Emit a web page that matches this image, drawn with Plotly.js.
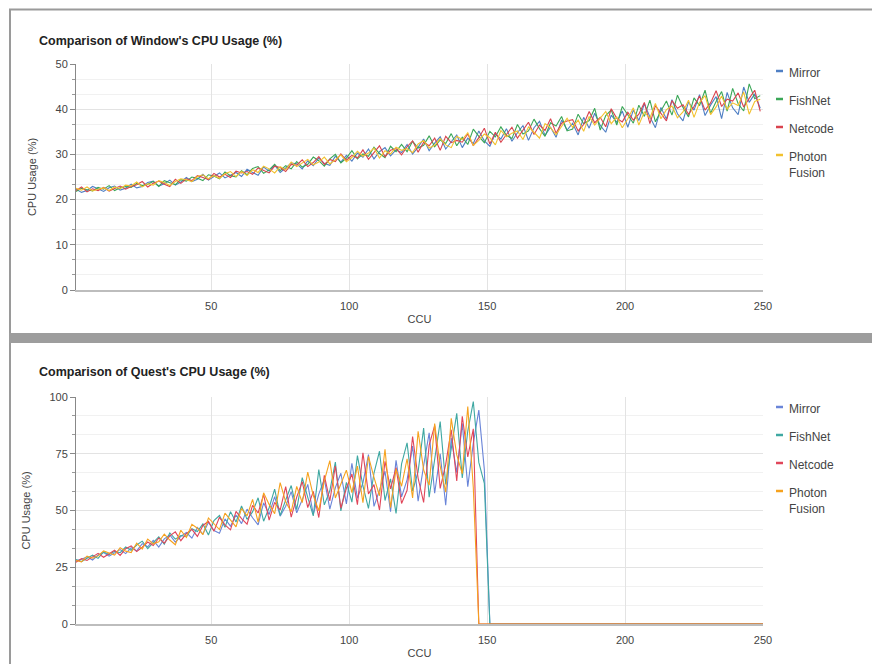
<!DOCTYPE html>
<html>
<head>
<meta charset="utf-8">
<script src="https://cdn.plot.ly/plotly-3.0.1.min.js"></script>
<style>html,body{margin:0;padding:0;background:#fff;}#chart{width:872px;height:664px;}</style>
</head>
<body>
<div id="chart"></div>
<script>
// ---------- DATA ----------
const seriesNames = ["Mirror", "FishNet", "Netcode", "Photon Fusion"];
const xTickVals = [50, 100, 150, 200, 250];

// Window's CPU usage, CCU = 1,3,5,...,249
const winMirror = [
22.3,21.6,22.0,22.9,22.4,21.8,22.6,23.0,22.1,22.5,
23.4,22.6,22.9,23.8,24.1,23.0,23.5,24.3,23.2,23.9,
24.9,24.0,24.5,25.6,24.3,25.1,25.9,24.8,25.4,26.0,
25.1,26.7,26.0,25.4,27.2,26.3,27.6,26.0,27.0,28.1,
27.9,26.8,28.6,27.5,29.2,28.0,27.6,29.6,28.3,29.8,
28.5,30.3,29.4,31.2,29.0,30.6,31.5,29.7,31.0,30.4,
32.2,30.1,31.6,33.4,30.8,32.5,33.9,31.2,32.8,34.3,
31.5,33.6,32.4,35.2,33.0,31.8,34.6,33.4,35.7,32.9,
34.8,36.4,33.1,35.9,37.3,34.2,36.0,33.8,37.6,35.4,
36.9,34.3,38.2,35.8,39.1,36.4,34.9,38.7,37.1,39.6,
36.0,39.8,37.5,41.2,38.3,35.9,40.4,37.8,42.1,39.0,
37.4,41.6,39.8,43.2,38.6,40.9,42.8,37.9,43.7,40.3,
38.8,44.9,41.5,43.4,40.2];
const winFishNet = [
21.8,22.5,22.2,21.9,22.7,22.3,23.1,22.0,22.6,22.9,
22.7,23.6,23.1,23.4,24.0,22.9,24.2,23.7,23.3,24.4,
24.1,25.0,24.7,24.2,25.5,25.2,24.6,26.1,25.3,25.0,
26.4,25.5,26.9,27.3,25.8,26.6,27.8,26.4,27.5,26.8,
28.4,27.2,27.8,29.4,28.6,27.4,29.0,30.0,28.1,29.2,
30.8,29.0,30.1,29.6,31.6,30.2,29.3,31.8,30.6,32.2,
30.6,32.9,31.4,32.0,34.1,31.7,33.2,32.4,34.6,31.9,
33.8,32.2,35.6,34.0,32.6,35.1,33.9,36.1,34.2,33.5,
36.6,34.5,35.2,37.8,35.7,34.0,37.0,36.3,38.4,35.2,
35.6,38.9,36.8,37.5,40.2,35.4,38.6,39.8,36.5,40.6,
38.8,36.9,40.9,38.4,42.0,37.2,39.6,41.8,38.7,43.1,
40.4,38.3,42.5,40.8,44.2,39.1,41.7,43.9,39.6,44.6,
41.2,39.6,45.6,42.3,43.0];
const winNetcode = [
22.0,22.8,21.7,22.4,22.0,22.7,21.9,22.5,23.0,22.3,
22.9,23.3,24.0,22.8,23.6,24.1,23.4,22.9,24.5,23.6,
24.6,24.2,25.3,24.9,24.4,25.8,25.0,25.6,24.9,26.3,
25.9,26.2,25.6,27.0,26.5,25.9,27.4,27.1,26.2,27.8,
27.6,28.8,27.3,28.2,29.5,27.8,28.9,28.4,30.1,28.7,
29.8,29.2,31.0,28.9,30.4,31.9,29.5,30.9,31.3,29.9,
31.7,33.0,30.5,32.7,31.9,33.6,30.9,34.0,32.6,33.1,
32.7,34.5,31.9,33.7,35.8,32.3,34.9,32.7,34.4,36.0,
33.6,35.5,37.1,34.4,36.5,35.3,37.9,34.7,36.9,37.4,
37.7,35.2,36.6,39.5,37.0,38.2,36.1,40.1,38.0,37.2,
39.3,37.6,38.9,41.5,36.8,40.8,39.2,37.4,41.9,40.2,
41.0,38.9,40.6,42.9,39.8,41.4,44.1,40.6,42.2,41.8,
43.6,40.5,42.4,44.2,39.5];
const winPhoton = [
22.5,22.1,22.8,21.9,22.3,22.6,22.0,22.8,22.4,23.2,
23.0,23.9,22.8,23.5,23.2,24.2,23.8,23.1,24.0,24.6,
24.4,24.0,25.1,25.5,24.6,25.3,24.7,25.7,26.2,25.1,
26.2,25.3,26.6,26.0,27.4,26.8,25.9,27.3,26.6,28.3,
27.3,28.1,28.9,27.7,28.3,29.4,27.9,28.8,29.9,28.4,
29.3,30.7,29.6,30.3,31.4,29.2,30.8,30.1,31.6,30.9,
31.3,30.4,32.3,33.1,31.4,32.0,33.5,32.1,31.5,34.0,
33.3,34.8,32.0,33.1,34.5,33.7,32.1,35.3,33.9,34.7,
35.2,33.3,36.1,34.9,33.6,36.8,35.9,34.4,36.2,38.0,
36.0,37.6,35.1,38.4,36.5,37.9,39.5,36.8,38.3,35.9,
37.9,40.3,36.5,39.4,38.0,41.3,37.9,39.9,40.7,38.1,
39.4,42.0,38.2,41.5,43.0,38.8,40.5,42.9,40.0,41.4,
40.8,43.8,38.9,41.7,42.2];

// Quest's CPU usage, CCU = 1,3,5,... ; last two values are at the drop and at CCU 250
const questMirror = [
27.8,28.5,29.6,28.2,30.4,31.5,29.9,31.2,32.8,31.0,
33.6,32.2,35.4,34.0,36.8,33.9,37.5,39.2,36.1,38.6,
40.3,37.8,42.5,39.6,44.8,41.2,40.0,46.3,43.1,48.0,
44.2,50.6,46.8,43.7,53.4,48.2,56.1,47.5,51.9,58.3,
49.0,54.7,61.5,48.3,57.2,63.8,50.6,60.1,66.4,52.9,
70.8,55.4,62.2,74.6,51.8,58.9,67.3,49.5,72.1,56.0,
63.5,78.4,54.1,69.8,84.2,57.6,75.0,52.3,81.9,66.7,
88.4,60.5,79.6,94.2,68.0,0,0];
const questFishNet = [
28.4,27.5,29.0,30.3,28.9,31.8,30.6,32.0,31.4,33.9,
32.5,34.8,36.5,33.2,35.9,38.4,35.2,40.1,37.4,39.0,
38.5,42.0,40.7,44.1,39.2,45.6,47.8,42.6,49.5,44.9,
52.0,46.1,49.4,55.6,45.3,51.2,59.4,47.8,54.6,61.0,
50.4,64.5,55.8,47.6,68.0,52.5,58.7,71.3,49.8,62.4,
53.7,74.2,60.8,50.9,66.5,76.1,54.4,63.9,48.7,70.5,
79.8,58.6,67.1,86.3,55.9,73.4,89.2,61.5,77.6,92.8,
64.3,85.0,98.0,71.2,62.0,0,0];
const questNetcode = [
27.2,28.8,28.0,29.5,31.1,29.4,30.8,32.5,30.2,33.2,
34.4,31.9,33.8,36.1,34.6,37.9,35.6,38.8,40.6,36.7,
39.8,41.7,38.6,43.4,45.2,40.9,47.0,43.7,41.5,49.6,
46.4,44.0,52.3,48.9,57.0,45.8,53.6,50.2,60.5,47.1,
55.9,62.7,51.3,58.4,46.9,65.5,54.2,69.6,51.0,59.8,
66.1,52.6,75.4,57.3,61.4,50.2,71.7,59.5,68.9,53.1,
58.9,82.6,64.2,53.6,78.8,87.4,59.7,70.3,85.6,63.0,
91.5,73.6,86.0,0,0];
const questPhoton = [
28.0,27.4,29.9,29.0,30.0,32.2,31.3,30.4,33.6,32.1,
31.5,35.6,33.0,37.4,35.3,36.2,39.6,37.0,34.9,41.3,
38.1,43.9,42.2,39.4,46.7,44.3,41.6,48.8,45.9,42.8,
50.9,47.6,54.9,44.9,57.8,52.7,48.6,62.3,53.8,49.4,
60.6,53.5,66.9,56.6,49.9,63.1,72.0,55.5,61.7,67.8,
57.9,69.6,53.4,73.8,64.6,56.5,77.0,51.3,68.2,60.7,
72.8,55.5,84.9,67.9,61.2,88.3,69.4,58.1,90.6,74.5,
66.2,95.8,60.0,0,0];

// ---------- CHART ----------
const W = 872, H = 664;
const px = v => v / W;            // pixel -> paper x
const py = v => (H - v) / H;      // pixel -> paper y

function ccuOdd(n) { const a = []; for (let i = 0; i < n; i++) a.push(1 + 2 * i); return a; }
function ccuWithEnd(n) { const a = ccuOdd(n - 1); a.push(250); return a; }

const topColors = ["#4f7fc4", "#3aa757", "#d9434e", "#f2c12e"];
const botColors = ["#6a85d8", "#3fa8a2", "#e0465a", "#f6a21e"];

const topData = [winMirror, winFishNet, winNetcode, winPhoton];
const botData = [questMirror, questFishNet, questNetcode, questPhoton];

const traces = [];
topData.forEach((d, i) => traces.push({
  x: ccuOdd(d.length), y: d, type: "scatter", mode: "lines", name: seriesNames[i],
  xaxis: "x", yaxis: "y", line: {color: topColors[i], width: 1.1}, showlegend: false, hoverinfo: "skip"
}));
botData.forEach((d, i) => traces.push({
  x: ccuWithEnd(d.length), y: d, type: "scatter", mode: "lines", name: seriesNames[i],
  xaxis: "x2", yaxis: "y2", line: {color: botColors[i], width: 1.1}, showlegend: false, hoverinfo: "skip"
}));

const sans = "Liberation Sans, Arial, sans-serif";
const tickFont = {family: sans, size: 11, color: "#444"};

function xAxis(anchor) {
  return {
    domain: [px(76), px(763)], range: [1, 250], anchor: anchor,
    tickvals: xTickVals, ticks: "", showgrid: true, gridcolor: "#e3e3e3", gridwidth: 1,
    showline: true, linecolor: "#bdbdbd", linewidth: 1.5, zeroline: false,
    tickfont: tickFont, ticklabelstandoff: 5,
    title: {text: "CCU", font: {family: sans, size: 11, color: "#444"}, standoff: 4}
  };
}
function yAxis(anchor, dom, max, dt) {
  return {
    domain: dom, range: [0, max], anchor: anchor, dtick: dt,
    ticks: "outside", ticklen: 5, tickcolor: "#888", tickwidth: 1,
    showgrid: true, gridcolor: "#e3e3e3", showline: true, linecolor: "#888", linewidth: 1,
    zeroline: false, tickfont: tickFont,
    minor: {dtick: dt / 3, ticks: "outside", ticklen: 3, tickcolor: "#999", showgrid: true, gridcolor: "#f1f1f1"},
    title: {text: "CPU Usage (%)", font: {family: sans, size: 11, color: "#444"}, standoff: 16}
  };
}

const annotations = [
  {text: "<b>Comparison of Window's CPU Usage (%)</b>", xref: "paper", yref: "paper", x: px(37), y: py(41),
   xanchor: "left", yanchor: "middle", showarrow: false, font: {family: sans, size: 12.5, color: "#222"}},
  {text: "<b>Comparison of Quest's CPU Usage (%)</b>", xref: "paper", yref: "paper", x: px(37), y: py(372),
   xanchor: "left", yanchor: "middle", showarrow: false, font: {family: sans, size: 12.5, color: "#222"}}
];
const shapes = [
  {type: "line", xref: "paper", yref: "paper", x0: px(9), x1: 1, y0: py(9.5), y1: py(9.5), line: {color: "#9a9a9a", width: 2}},
  {type: "line", xref: "paper", yref: "paper", x0: px(10), x1: px(10), y0: 0, y1: py(9), line: {color: "#9a9a9a", width: 2}},
  {type: "rect", xref: "paper", yref: "paper", x0: px(9), x1: 1, y0: py(343), y1: py(333), fillcolor: "#9d9d9d", line: {width: 0}}
];
// legend entries (one block per chart)
function legendBlock(ys, colors) {
  const labels = ["Mirror", "FishNet", "Netcode", "Photon<br>Fusion"];
  labels.forEach((lab, i) => {
    shapes.push({type: "line", xref: "paper", yref: "paper", x0: px(776), x1: px(783), y0: py(ys[i]), y1: py(ys[i]),
      line: {color: colors[i], width: 2.5}});
    annotations.push({text: lab, xref: "paper", yref: "paper", x: px(787), y: py(ys[i] - 7), xanchor: "left", yanchor: "top",
      align: "left", showarrow: false, font: {family: sans, size: 12, color: "#444"}});
  });
}
legendBlock([71, 99, 127, 155], topColors);
legendBlock([407, 435, 463, 491], botColors);

const layout = {
  width: W, height: H, margin: {l: 0, r: 0, t: 0, b: 0},
  paper_bgcolor: "#ffffff", plot_bgcolor: "#ffffff", showlegend: false,
  xaxis: xAxis("y"), yaxis: yAxis("x", [py(290), py(64)], 50, 10),
  xaxis2: xAxis("y2"), yaxis2: yAxis("x2", [py(624), py(397)], 100, 25),
  annotations: annotations, shapes: shapes
};

Plotly.newPlot("chart", traces, layout, {staticPlot: true, displayModeBar: false});
</script>
</body>
</html>
